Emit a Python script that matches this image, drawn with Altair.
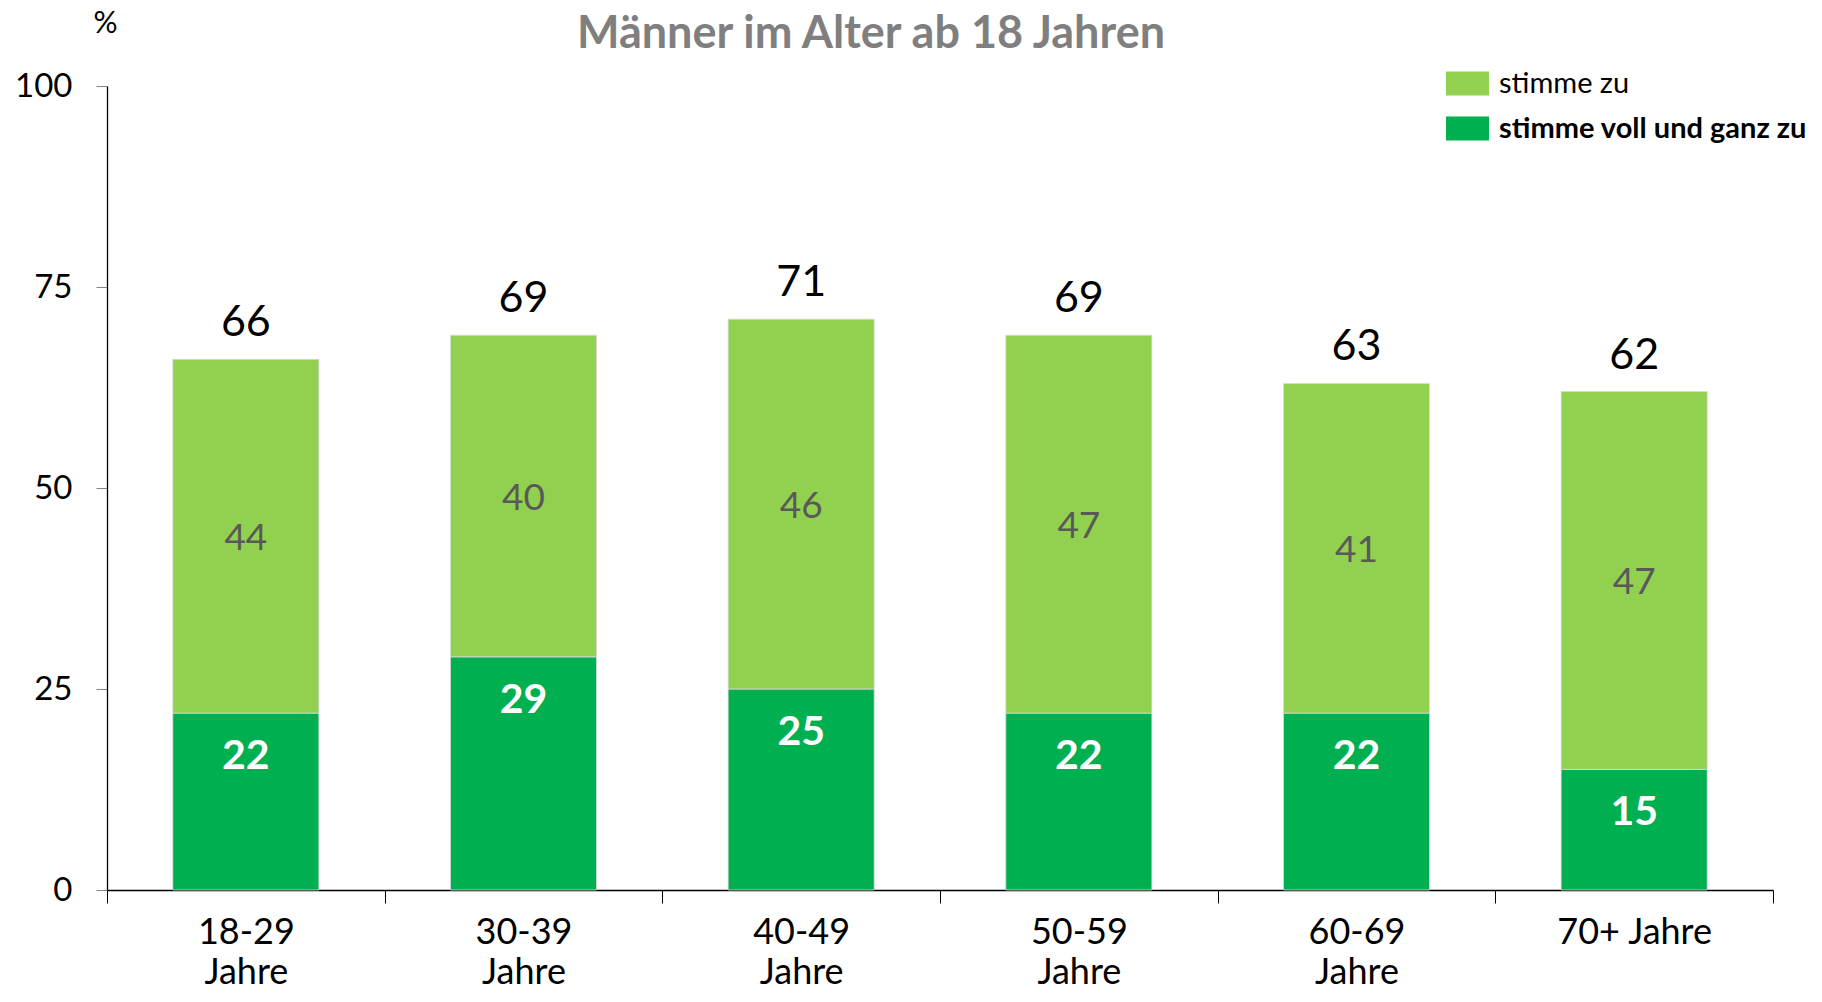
import altair as alt
import pandas as pd

categories = ["18-29 Jahre", "30-39 Jahre", "40-49 Jahre", "50-59 Jahre", "60-69 Jahre", "70+ Jahre"]
voll_und_ganz = [22, 29, 25, 22, 22, 15]
stimme_zu = [44, 40, 46, 47, 41, 47]
totals = [66, 69, 71, 69, 63, 62]
series_names = ["stimme zu", "stimme voll und ganz zu"]
series_colors = ["#92D050", "#00B050"]
y_ticks = [0, 25, 50, 75, 100]

long_rows = []
for c, v, z in zip(categories, voll_und_ganz, stimme_zu):
    long_rows.append({"cat": c, "series": "stimme voll und ganz zu", "value": v, "ord": 0})
    long_rows.append({"cat": c, "series": "stimme zu", "value": z, "ord": 1})
long_df = pd.DataFrame(long_rows)

wide_df = pd.DataFrame({"cat": categories, "voll": voll_und_ganz, "zu": stimme_zu, "total": totals})

FONT = "Lato"

x_scale = alt.Scale(paddingInner=0, paddingOuter=0)

x_enc = alt.X(
    "cat:N",
    sort=categories,
    scale=x_scale,
    axis=alt.Axis(
        title=None,
        labelAngle=0,
        tickBand="extent",
        tickSize=13,
        tickColor="#000000",
        domainColor="#000000",
        domainWidth=1.3,
        labelFontSize=36,
        labelColor="#000000",
        labelFont=FONT,
        labelLineHeight=40,
        labelPadding=12,
        labelExpr="datum.label == '70+ Jahre' ? datum.label : split(datum.label, ' ')",
    ),
)

y_scale = alt.Scale(domain=[0, 100])

bars = alt.Chart(long_df).mark_bar(
    stroke="#D9D9D9", strokeWidth=0.8, width=alt.RelativeBandSize(0.526)
).encode(
    x=x_enc,
    y=alt.Y(
        "value:Q",
        stack="zero",
        scale=y_scale,
        axis=alt.Axis(
            values=y_ticks,
            grid=False,
            tickSize=11,
            tickColor="#868686",
            domainColor="#000000",
            domainWidth=1.3,
            labelFontSize=33,
            labelFont=FONT,
            labelColor="#000000",
            labelPadding=24,
            title="%",
            titleAngle=0,
            titleAlign="center",
            titleBaseline="middle",
            titleX=-2,
            titleY=-63,
            titleFontSize=30,
            titleFont=FONT,
            titleFontWeight="normal",
            titleColor="#000000",
        ),
    ),
    color=alt.Color(
        "series:N",
        scale=alt.Scale(domain=series_names, range=series_colors),
        legend=alt.Legend(
            title=None,
            orient="none",
            legendX=1339,
            legendY=-24,
            symbolType="M-1,-0.56H1V0.56H-1Z",
            symbolSize=1849,
            symbolStrokeWidth=0,
            labelFont=FONT,
            labelFontSize=29,
            labelColor="#000000",
            labelOffset=10,
            rowPadding=8,
            padding=0,
            labelLimit=400,
            labelFontWeight=alt.ExprRef("datum.label == 'stimme voll und ganz zu' ? 'bold' : 'normal'"),
        ),
    ),
    order=alt.Order("ord:Q"),
)

light_labels = alt.Chart(wide_df).transform_calculate(
    mid="datum.voll + datum.zu / 2"
).mark_text(font=FONT, fontSize=37, color="#595959", baseline="middle", dy=3).encode(
    x=alt.X("cat:N", sort=categories, scale=x_scale),
    y=alt.Y("mid:Q", scale=y_scale),
    text=alt.Text("zu:Q"),
)

dark_labels = alt.Chart(wide_df).mark_text(
    font=FONT, fontSize=41, fontWeight="bold", color="#FFFFFF", baseline="middle", dy=44
).encode(
    x=alt.X("cat:N", sort=categories, scale=x_scale),
    y=alt.Y("voll:Q", scale=y_scale),
    text=alt.Text("voll:Q"),
)

total_labels = alt.Chart(wide_df).mark_text(
    font=FONT, fontSize=43, color="#000000", baseline="middle", dy=-36
).encode(
    x=alt.X("cat:N", sort=categories, scale=x_scale),
    y=alt.Y("total:Q", scale=y_scale),
    text=alt.Text("total:Q"),
)

chart = alt.layer(bars, light_labels, dark_labels, total_labels).properties(
    width=1666,
    height=804,
    autosize=alt.AutoSizeParams(type="none"),
    padding={"left": 99, "top": 78, "right": 41, "bottom": 100},
    title=alt.TitleParams(
        "Männer im Alter ab 18 Jahren",
        font=FONT,
        fontSize=45,
        fontWeight="bold",
        color="#7F7F7F",
        anchor="middle",
        dx=-69,
        offset=-71,
        baseline="middle",
    ),
).configure(font=FONT).configure_view(stroke="transparent", strokeWidth=0)

chart.save("out.html", embed_options={"renderer": "svg", "actions": False})
